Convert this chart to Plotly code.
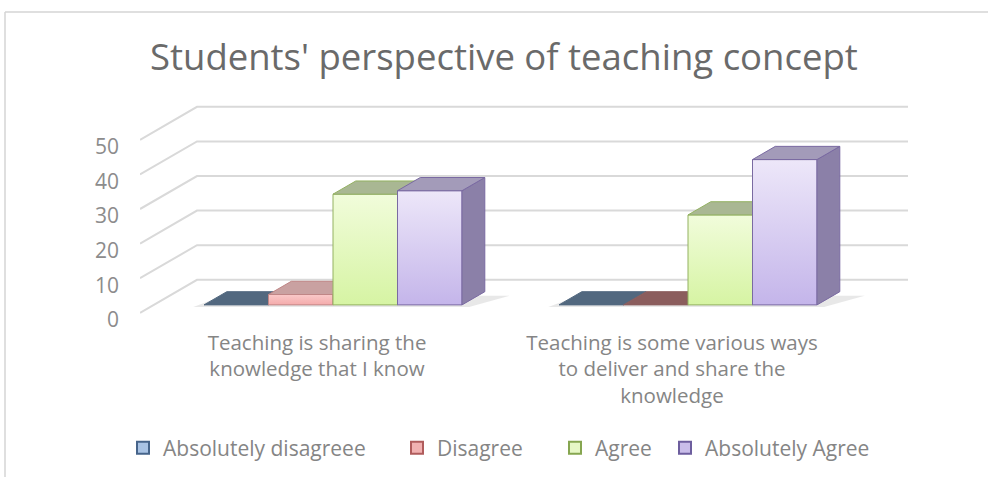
import plotly.graph_objects as go

# ---------------- data ----------------
categories = [
    "Teaching is sharing the<br>knowledge that I know",
    "Teaching is some various ways<br>to deliver and share the<br>knowledge",
]
series_names = ["Absolutely disagreee", "Disagree", "Agree", "Absolutely Agree"]
absolutely_disagree = [0, 0]
disagree = [3, 0]
agree = [32, 26]
absolutely_agree = [33, 42]
y_ticks = [0, 10, 20, 30, 40, 50]
chart_title = "Students' perspective of teaching concept"

values = [absolutely_disagree, disagree, agree, absolutely_agree]

# ---------------- styles ----------------
front_top = ["#c3d5ea", "#fac9c9", "#f1fcdb", "#ede7f9"]
front_bottom = ["#9cb8da", "#f4abab", "#d6f4a3", "#c4b5ea"]
edge_col = ["#4f6a8a", "#c08686", "#93b161", "#7a6aa2"]
side_col = ["#5d7392", "#b98a8a", "#a3b283", "#8b80a8"]
top_col = ["#6c8098", "#c9a1a1", "#a9b793", "#a39bb9"]
zero_top_col = ["#52687f", "#8b5d5d", "#9aa87f", "#8f86a8"]
legend_fill = ["#a9c3e4", "#f1b1b1", "#e6f7c6", "#c9bde9"]
legend_edge = ["#46648a", "#b05c5c", "#86a650", "#6d5e9e"]
legend_text_x = [163, 437, 595, 705]   # pixel where each legend label starts
grid_col = "#d9d9d9"
text_col = "#858585"
FONT = "Open Sans"

# ---------------- geometry (pixel calibration) ----------------
W, H = 988, 477
ML, MR, MT, MB = 140, 80, 99, 159
px_x = 355.0            # px per category unit
px_y = 3.46             # px per value unit
x_range = [-(333 - 140) / px_x, (908 - 333) / px_x]
plot_h = H - MT - MB
y_range = [-1.5, -1.5 + plot_h / px_y]

DXu = 57 / px_x         # full depth offset in x units
DYu = 33 / px_y         # full depth offset in value units
f_front = 0.24          # depth fraction of bar front faces
bar_depth = 0.40        # depth fraction of bars
bw = 64.5 / px_x        # bar width
yb = f_front * DYu
dxb = bar_depth * DXu
dyb = bar_depth * DYu
label_shift = -16 / px_x

fig = go.Figure()

# back wall gridlines with diagonal connectors to the tick labels
for t in y_ticks:
    fig.add_trace(go.Scatter(
        x=[x_range[0], x_range[0] + DXu, x_range[1]],
        y=[t, t + DYu, t + DYu],
        mode="lines", line=dict(color=grid_col, width=2),
        hoverinfo="skip", showlegend=False))

n_series = len(values)
for g in range(len(categories)):
    gx0 = g - n_series / 2 * bw
    gx1 = g + n_series / 2 * bw
    # floor shadow
    fig.add_trace(go.Scatter(
        x=[gx0 - 0.03, gx1 + 0.02, gx1 + dxb + 0.07, gx0 + dxb - 0.01],
        y=[yb - 0.6, yb - 0.6, yb + dyb * 0.7, yb + dyb * 0.7],
        mode="lines", line=dict(width=0), fill="toself",
        fillcolor="rgba(110,110,110,0.16)",
        hoverinfo="skip", showlegend=False))
    for s in range(n_series):
        v = values[s][g]
        x0 = gx0 + s * bw
        x1 = x0 + bw
        yt = yb + v
        if v > 0:
            # front face with vertical gradient
            fig.add_trace(go.Scatter(
                x=[x0, x1, x1, x0, x0], y=[yb, yb, yt, yt, yb],
                mode="lines", line=dict(color=edge_col[s], width=1),
                fill="toself",
                fillgradient=dict(type="vertical", start=yb, stop=yt,
                                  colorscale=[[0, front_bottom[s]], [1, front_top[s]]]),
                hoverinfo="skip", showlegend=False))
            # right side face
            fig.add_trace(go.Scatter(
                x=[x1, x1 + dxb, x1 + dxb, x1, x1],
                y=[yb, yb + dyb, yt + dyb, yt, yb],
                mode="lines", line=dict(color=edge_col[s], width=1),
                fill="toself", fillcolor=side_col[s],
                hoverinfo="skip", showlegend=False))
            tc = top_col[s]
        else:
            tc = zero_top_col[s]
        # top face
        fig.add_trace(go.Scatter(
            x=[x0, x1, x1 + dxb, x0 + dxb, x0],
            y=[yt, yt, yt + dyb, yt + dyb, yt],
            mode="lines", line=dict(color=edge_col[s] if v > 0 else tc, width=1),
            fill="toself", fillcolor=tc,
            hoverinfo="skip", showlegend=False))

# legend entries (one legend per entry so each sits where the reference puts it)
legend_layouts = {}
for s in range(n_series):
    key = "legend" if s == 0 else f"legend{s + 1}"
    fig.add_trace(go.Bar(
        x=[None], y=[None], name=series_names[s], legend=key,
        marker=dict(color=legend_fill[s], line=dict(color=legend_edge[s], width=2))))
    legend_layouts[key] = dict(
        orientation="h", xref="container", yref="container",
        x=(legend_text_x[s] - 40) / W, xanchor="left",
        y=1 - 448 / H, yanchor="middle",
        font=dict(family=FONT, size=21, color=text_col),
        bgcolor="rgba(0,0,0,0)")

# frame
def px2paper_x(p):
    return (p - ML) / (W - ML - MR)

def px2paper_y(p):
    return (H - MB - p) / plot_h

fig.add_shape(type="line", xref="paper", yref="paper",
              x0=px2paper_x(5), x1=px2paper_x(988), y0=px2paper_y(12), y1=px2paper_y(12),
              line=dict(color="#d4d4d4", width=1.5))
fig.add_shape(type="line", xref="paper", yref="paper",
              x0=px2paper_x(5), x1=px2paper_x(5), y0=px2paper_y(12), y1=px2paper_y(477),
              line=dict(color="#d4d4d4", width=1.5))

fig.update_layout(
    width=W, height=H,
    margin=dict(l=ML, r=MR, t=MT, b=MB, autoexpand=False),
    paper_bgcolor="white", plot_bgcolor="white",
    title=dict(text=chart_title, x=0.51, xanchor="center", xref="container",
               y=1 - 57 / H, yanchor="middle", yref="container",
               font=dict(family=FONT, size=36.5, color="#6a6a6a")),
    font=dict(family=FONT, color=text_col),
    showlegend=True,
    xaxis=dict(range=x_range, showgrid=False, zeroline=False, showline=False,
               tickvals=[i + label_shift for i in range(len(categories))],
               ticktext=categories, ticks="", ticklabelstandoff=10,
               tickfont=dict(family=FONT, size=20.5, color=text_col), fixedrange=True),
    yaxis=dict(range=y_range, showgrid=False, zeroline=False, showline=False,
               tickvals=y_ticks, ticks="", ticklabelstandoff=20, ticklabelshift=7,
               tickfont=dict(family=FONT, size=21, color="#8c8c8c"), fixedrange=True),
    **legend_layouts,
)

fig.write_html("out.html", config={"displayModeBar": False},
               post_script="document.body.style.margin='0';")
